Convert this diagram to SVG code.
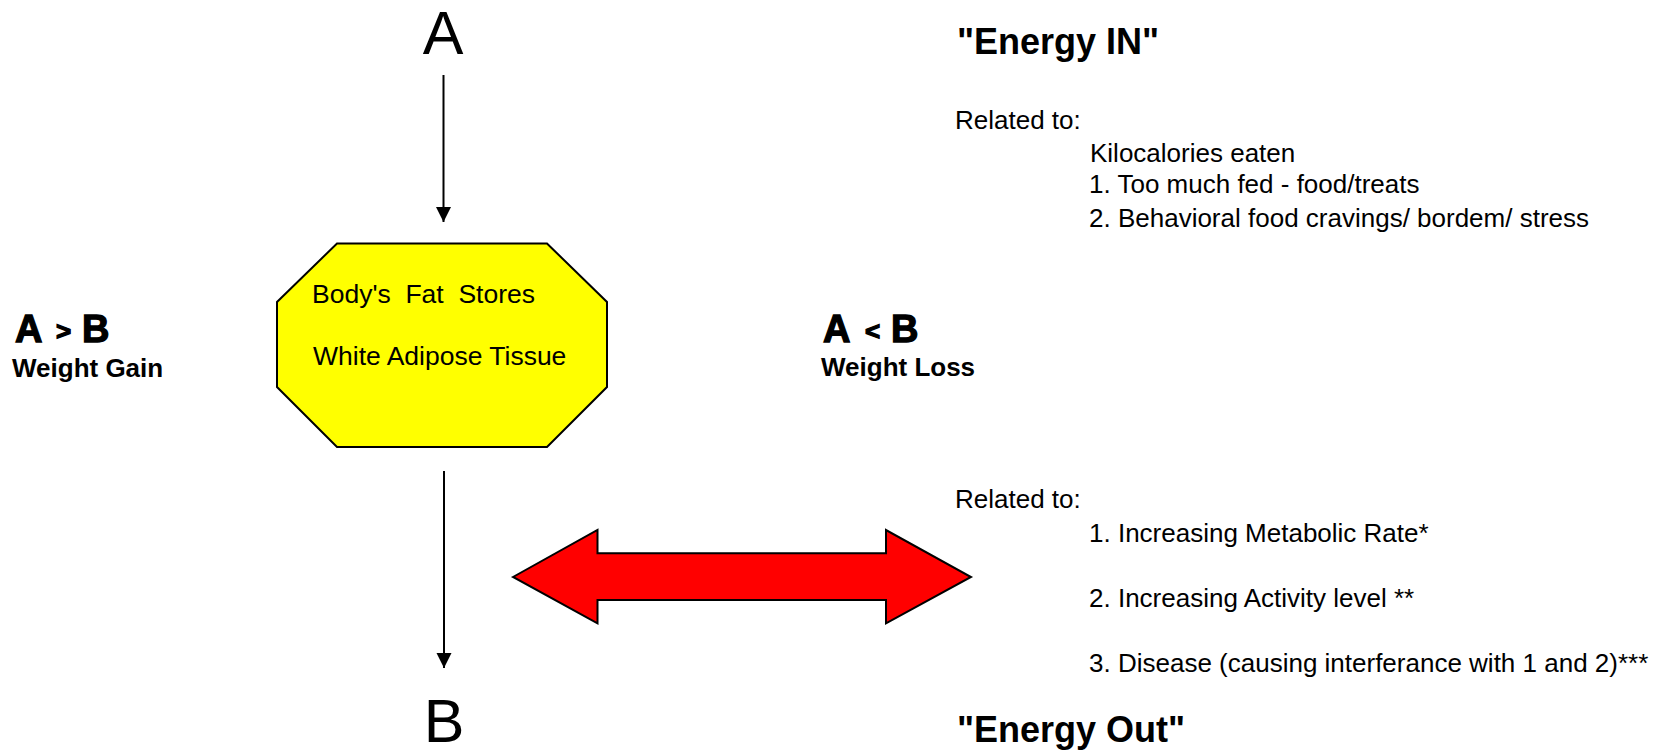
<svg xmlns="http://www.w3.org/2000/svg" width="1671" height="752" viewBox="0 0 1671 752">
  <style>
    text { font-family: "Liberation Sans", Arial, sans-serif; fill: #000; white-space: pre; }
    .big { font-size: 61px; }
    .body { font-size: 26px; }
    .box { font-size: 26.5px; }
    .head { font-size: 36px; font-weight: bold; }
    .sub { font-size: 26px; font-weight: bold; }
    .cmp { font-size: 38px; font-weight: bold; stroke: #000; stroke-width: 1.3; }
    .cmpop { font-size: 26px; font-weight: bold; stroke: #000; stroke-width: 1.3; }
    .conn { stroke: #000; stroke-width: 2; fill: none; }
  </style>
  <defs>
    <marker id="ah" markerUnits="userSpaceOnUse" markerWidth="16" markerHeight="16" refX="15" refY="7.5" orient="auto">
      <path d="M0,0 L15,7.5 L0,15 Z" fill="#000"/>
    </marker>
  </defs>
  <rect width="1671" height="752" fill="#fff"/>

  <g id="connectors">
    <line class="conn" x1="443.5" y1="75" x2="443.5" y2="222" marker-end="url(#ah)"/>
    <line class="conn" x1="444" y1="471" x2="444" y2="668" marker-end="url(#ah)"/>
    <polygon id="red-arrow" points="513,577 597.5,530 597.5,553.3 886,553.3 886,530 971,577 886,623.3 886,600 597.5,600 597.5,623.3" fill="#ff0000" stroke="#000" stroke-width="2" stroke-linejoin="miter"/>
  </g>

  <g id="node-A">
    <text class="big" x="443" y="54" text-anchor="middle">A</text>
  </g>
  <g id="node-B">
    <text class="big" x="444" y="741.7" text-anchor="middle">B</text>
  </g>

  <g id="node-fat">
    <polygon points="337,243.5 547,243.5 607,302 607,387 547,447 337,447 277,387 277,302" fill="#ffff00" stroke="#000" stroke-width="2"/>
    <text class="box" x="312" y="302.7">Body's  Fat  Stores</text>
    <text class="box" x="313" y="365">White Adipose Tissue</text>
  </g>

  <g id="node-gain">
    <text x="15" y="341.7"><tspan class="cmp">A</tspan><tspan class="cmpop" x="56" y="340">&gt;</tspan><tspan class="cmp" x="82" y="341.7">B</tspan></text>
    <text class="sub" x="12" y="377">Weight Gain</text>
  </g>

  <g id="node-loss">
    <text x="823" y="341.7"><tspan class="cmp">A</tspan><tspan class="cmpop" x="865" y="340">&lt;</tspan><tspan class="cmp" x="891" y="341.7">B</tspan></text>
    <text class="sub" x="821" y="375.7">Weight Loss</text>
  </g>

  <g id="node-energy-in">
    <text class="head" x="957" y="54">"Energy IN"</text>
    <text class="body" x="955" y="129">Related to:</text>
    <text class="body" x="1090" y="161.7">Kilocalories eaten</text>
    <text class="body" x="1089" y="193.3">1. Too much fed - food/treats</text>
    <text class="body" x="1089" y="226.7">2. Behavioral food cravings/ bordem/ stress</text>
  </g>

  <g id="node-energy-out">
    <text class="body" x="955" y="508.3">Related to:</text>
    <text class="body" x="1089" y="541.7">1. Increasing Metabolic Rate*</text>
    <text class="body" x="1089" y="606.7">2. Increasing Activity level **</text>
    <text class="body" x="1089" y="671.7">3. Disease (causing interferance with 1 and 2)***</text>
    <text class="head" x="957" y="741.7">"Energy Out"</text>
  </g>
</svg>
